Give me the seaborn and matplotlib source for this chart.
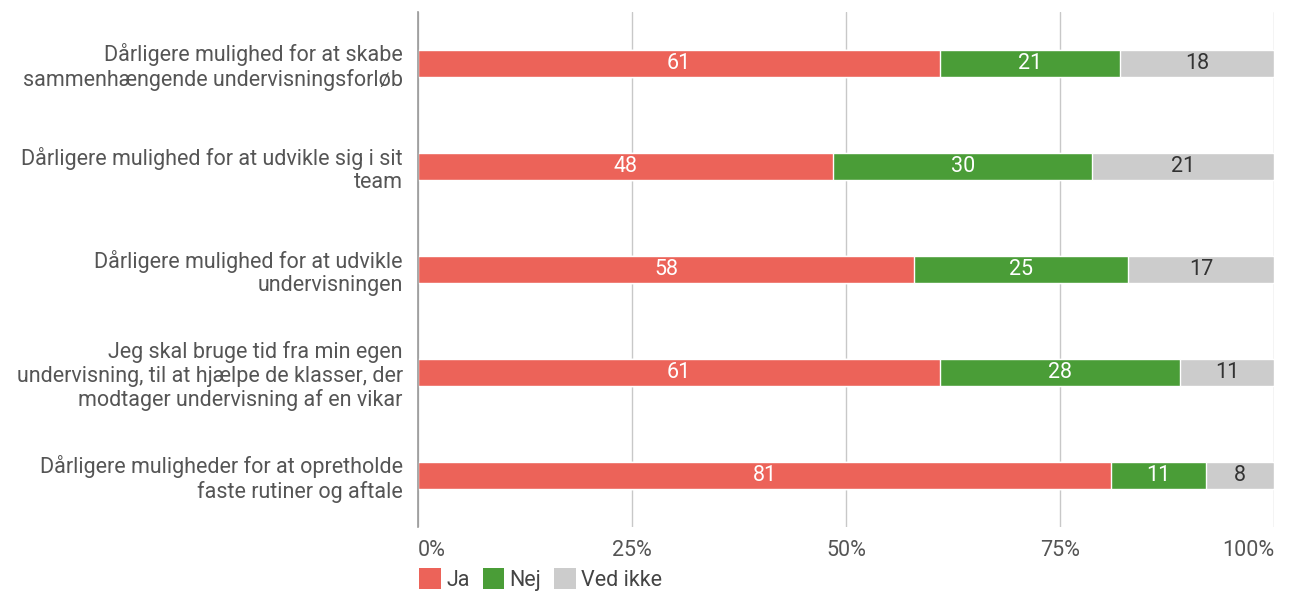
import matplotlib.pyplot as plt
from matplotlib.patches import Patch
import seaborn as sns
import numpy as np
import pandas as pd

categories = [
    "Dårligere mulighed for at skabe\nsammenhængende undervisningsforløb",
    "Dårligere mulighed for at udvikle sig i sit\nteam",
    "Dårligere mulighed for at udvikle\nundervisningen",
    "Jeg skal bruge tid fra min egen\nundervisning, til at hjælpe de klasser, der\nmodtager undervisning af en vikar",
    "Dårligere muligheder for at opretholde\nfaste rutiner og aftale",
]
ja = [61, 48, 58, 61, 81]
nej = [21, 30, 25, 28, 11]
ved_ikke = [18, 21, 17, 11, 8]
series_names = ["Ja", "Nej", "Ved ikke"]
colors = ["#ec6359", "#4a9d37", "#cccccc"]
text_colors = ["white", "white", "#333333"]
ticks = [0, 25, 50, 75, 100]

sns.set_theme(style="white")
plt.rcParams['font.family'] = ['Roboto', 'DejaVu Sans']

raw = np.array([ja, nej, ved_ikke], dtype=float)
pct = raw / raw.sum(axis=0) * 100
cum = np.cumsum(pct, axis=0)

fig = plt.figure(figsize=(12.92, 5.95), dpi=100)
ax = fig.add_axes([418 / 1292, 68 / 595, 856 / 1292, 515 / 595])

# stacked bars: draw cumulative totals from the back to the front
for i in reversed(range(3)):
    df = pd.DataFrame({"cat": categories, "val": cum[i]})
    sns.barplot(data=df, x="val", y="cat", orient="h", color=colors[i],
                width=0.265, saturation=1, ax=ax, zorder=2)

# value labels centred in each segment
for i in range(3):
    starts = cum[i] - pct[i]
    for j in range(len(categories)):
        ax.text(starts[j] + pct[i][j] / 2, j, f"{int(raw[i][j])}",
                ha="center", va="center", fontsize=15.5, color=text_colors[i], zorder=3)

ax.set_xlim(0, 100)
ax.set_ylim(4.5, -0.5)
ax.set_xticks(ticks)
ax.set_xticklabels([f"{t}%" for t in ticks])
xt = ax.get_xticklabels()
xt[0].set_ha("left")
xt[-1].set_ha("right")
ax.set_xlabel("")
ax.set_ylabel("")
ax.grid(axis="x", color="#c8c8c8", linewidth=1, zorder=0)
ax.grid(axis="y", visible=False)
for s in ["top", "right", "bottom"]:
    ax.spines[s].set_visible(False)
ax.spines["left"].set_color("#999999")
ax.spines["left"].set_linewidth(1.2)
ax.tick_params(axis="x", length=0, pad=9, labelsize=15.5, labelcolor="#555555")
ax.tick_params(axis="y", length=0, pad=11, labelsize=15.5, labelcolor="#555555")
for lbl in ax.get_yticklabels():
    lbl.set_linespacing(1.15)

handles = [Patch(facecolor=c, edgecolor="none") for c in colors]
fig.legend(handles, series_names, loc="lower left", bbox_to_anchor=(400 / 1292, -0.026),
           ncol=3, frameon=False, handlelength=1.0, handleheight=1.1, handletextpad=0.25,
           columnspacing=0.6, fontsize=15.5, labelcolor="#444444")

fig.savefig("out.png", dpi=100)
